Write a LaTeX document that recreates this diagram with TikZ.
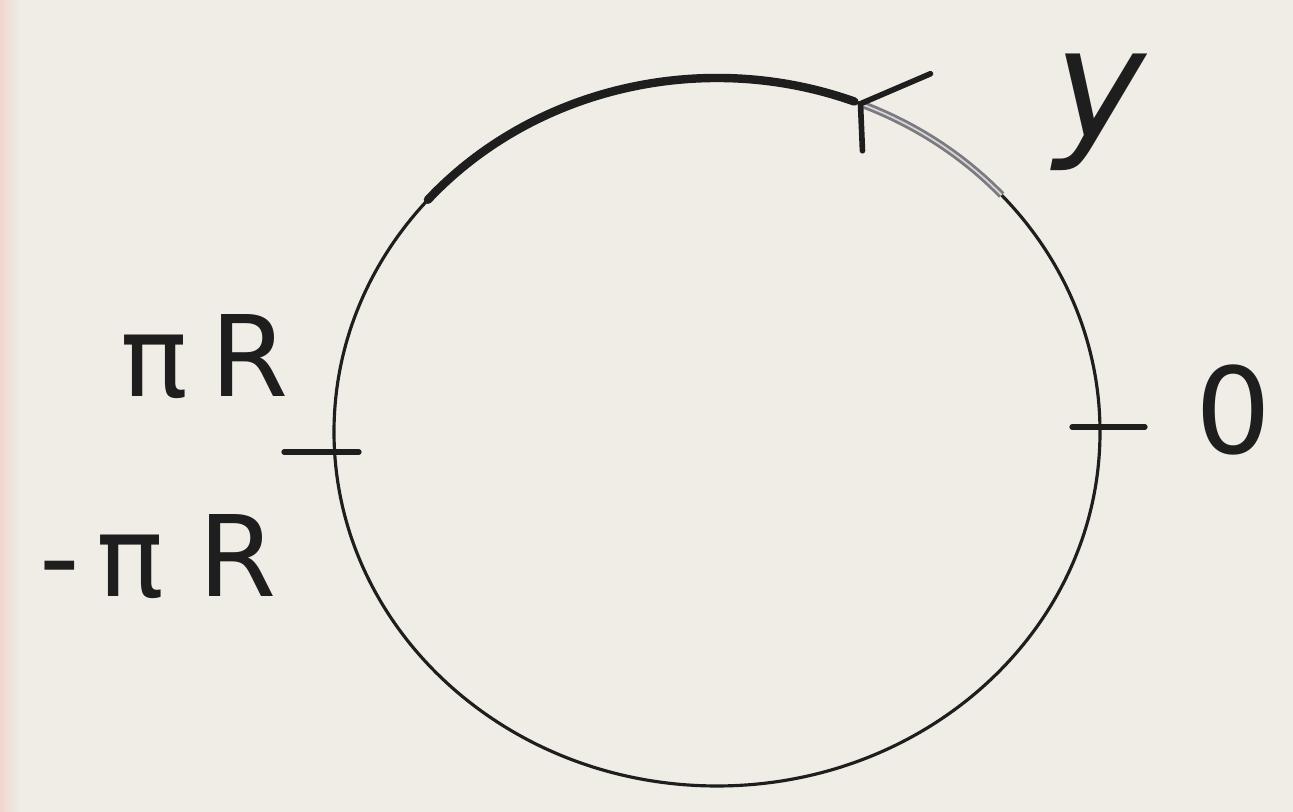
\documentclass[tikz,border=0pt]{standalone}
\usepackage{fontspec}
\setmainfont{DejaVu Sans}
\usetikzlibrary{arrows.meta, positioning, calc}
\definecolor{paper}{HTML}{EFEDE6}
\definecolor{ink}{HTML}{1E1E1E}
\definecolor{pencil}{HTML}{7A7A80}
\tikzset{
  rim/.style={draw=ink, line width=0.9pt},
  pathpart/.style={draw=ink, line width=2.4pt, line cap=round},
  ypart/.style={draw=pencil, line width=0.8pt, double=paper!80!pencil, double distance=0.5pt},
  barb/.style={draw=ink, line width=1.6pt, line cap=round, line join=round},
  tick/.style={draw=ink, line width=1.5pt, line cap=round},
  tag/.style={text=ink, inner sep=0pt, font=\fontsize{#1}{#1}\selectfont},
  tag/.default=30
}
\begin{document}
\begin{tikzpicture}

  % Paper
  \fill[paper] (0,0) rectangle (12.93,8.12);
  \shade[left color=red!10!paper, right color=paper, draw=none] (0,0) rectangle (0.2,8.12);
  \useasboundingbox (0,0) rectangle (12.93,8.12);

  % Circle
  \coordinate (c) at (7.17,3.80);
  \draw[rim] (c) ellipse [x radius=3.83, y radius=3.54];

  % Arc and arrow
  \draw[pathpart] (c) ++(139:3.83 and 3.54) arc[start angle=139, end angle=69, x radius=3.83, y radius=3.54];
  \draw[ypart] (c) ++(42:3.83 and 3.54) arc[start angle=42, end angle=68, x radius=3.83, y radius=3.54];
  \coordinate (tip) at ($(c)+(68:3.83 and 3.54)$);
  \draw[barb] ($(tip)+(0.70,0.30)$) coordinate (arm1) -- (tip) -- ($(tip)+(0.02,-0.47)$) coordinate (arm2);

  % Ticks
  \coordinate (zero) at ($(c)+(3.83,0.05)$);
  \coordinate (half) at ($(c)+(-3.83,-0.20)$);
  \draw[tick] ($(zero)+(-0.28,0)$) coordinate (z1) -- ($(zero)+(0.45,0)$) coordinate (z2);
  \draw[tick] ($(half)+(-0.50,0)$) coordinate (h1) -- ($(half)+(0.25,0)$) coordinate (h2);

  % Labels
  \node[tag=34] (lzero) at (12.33,4.02) {0};
  \node[tag=44] (ly) at (11.00,7.00) {\itshape y};
  \node[tag=32] (lpos) at (2.05,4.55) {π\hspace{0.2em}R};
  \node[tag=32] (lneg) at (1.58,2.55) {-\hspace{0.15em}π\hspace{0.3em}R};

\end{tikzpicture}
\end{document}
